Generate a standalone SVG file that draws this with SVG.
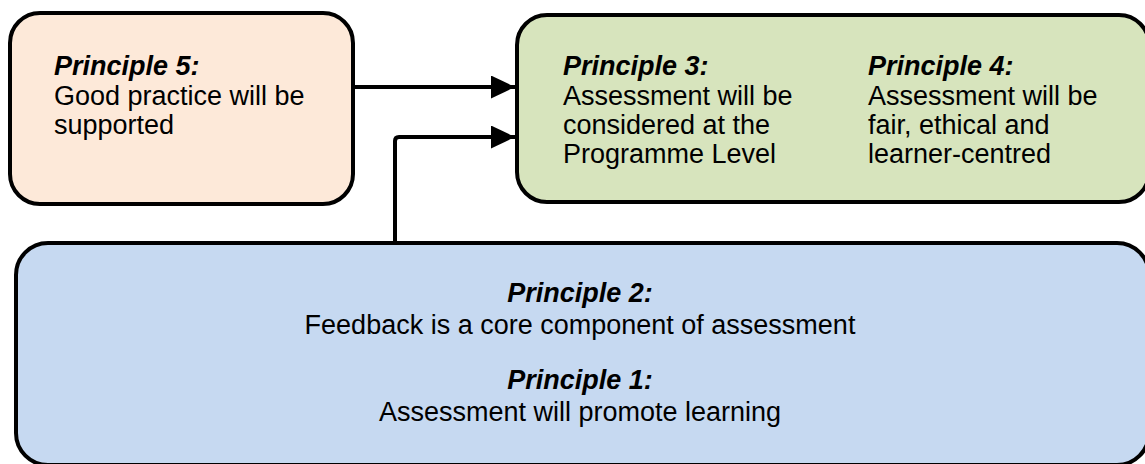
<svg xmlns="http://www.w3.org/2000/svg" width="1145" height="464" viewBox="0 0 1145 464">
<style>
.box{stroke:#000;stroke-width:4}
.t{font-family:"Liberation Sans",Arial,sans-serif;font-size:27px;fill:#000}
.h{font-weight:bold;font-style:italic}
.c{text-anchor:middle}
.conn{fill:none;stroke:#000;stroke-width:4}
</style>
<defs>
<marker id="ah" viewBox="0 0 24 23" refX="24" refY="11.5" markerWidth="24" markerHeight="23" markerUnits="userSpaceOnUse" orient="auto">
<path d="M0,0 L24,11.5 L0,23 Z" fill="#000"/>
</marker>
</defs>
<g id="p5">
<rect class="box" x="10" y="13" width="343" height="191" rx="30" fill="#fde9d9"/>
<text class="t h" x="54" y="75">Principle 5:</text>
<text class="t" x="54" y="105">Good practice will be</text>
<text class="t" x="54" y="134">supported</text>
</g>
<g id="p34">
<rect class="box" x="517" y="15" width="632" height="187" rx="30" fill="#d7e4bd"/>
<text class="t h" x="563" y="75">Principle 3:</text>
<text class="t" x="563" y="105">Assessment will be</text>
<text class="t" x="563" y="134">considered at the</text>
<text class="t" x="563" y="163">Programme Level</text>
<text class="t h" x="868" y="75">Principle 4:</text>
<text class="t" x="868" y="105">Assessment will be</text>
<text class="t" x="868" y="134">fair, ethical and</text>
<text class="t" x="868" y="163">learner-centred</text>
</g>
<g id="p12">
<rect class="box" x="16" y="243" width="1133" height="222" rx="32" fill="#c6d9f1"/>
<text class="t h c" x="580" y="302">Principle 2:</text>
<text class="t c" x="580" y="334">Feedback is a core component of assessment</text>
<text class="t h c" x="580" y="389">Principle 1:</text>
<text class="t c" x="580" y="421">Assessment will promote learning</text>
</g>
<g id="connectors">
<path class="conn" d="M353,87 L515,87" marker-end="url(#ah)"/>
<path class="conn" d="M395,243 L395,141 Q395,137 399,137 L515,137" marker-end="url(#ah)"/>
</g>
</svg>
